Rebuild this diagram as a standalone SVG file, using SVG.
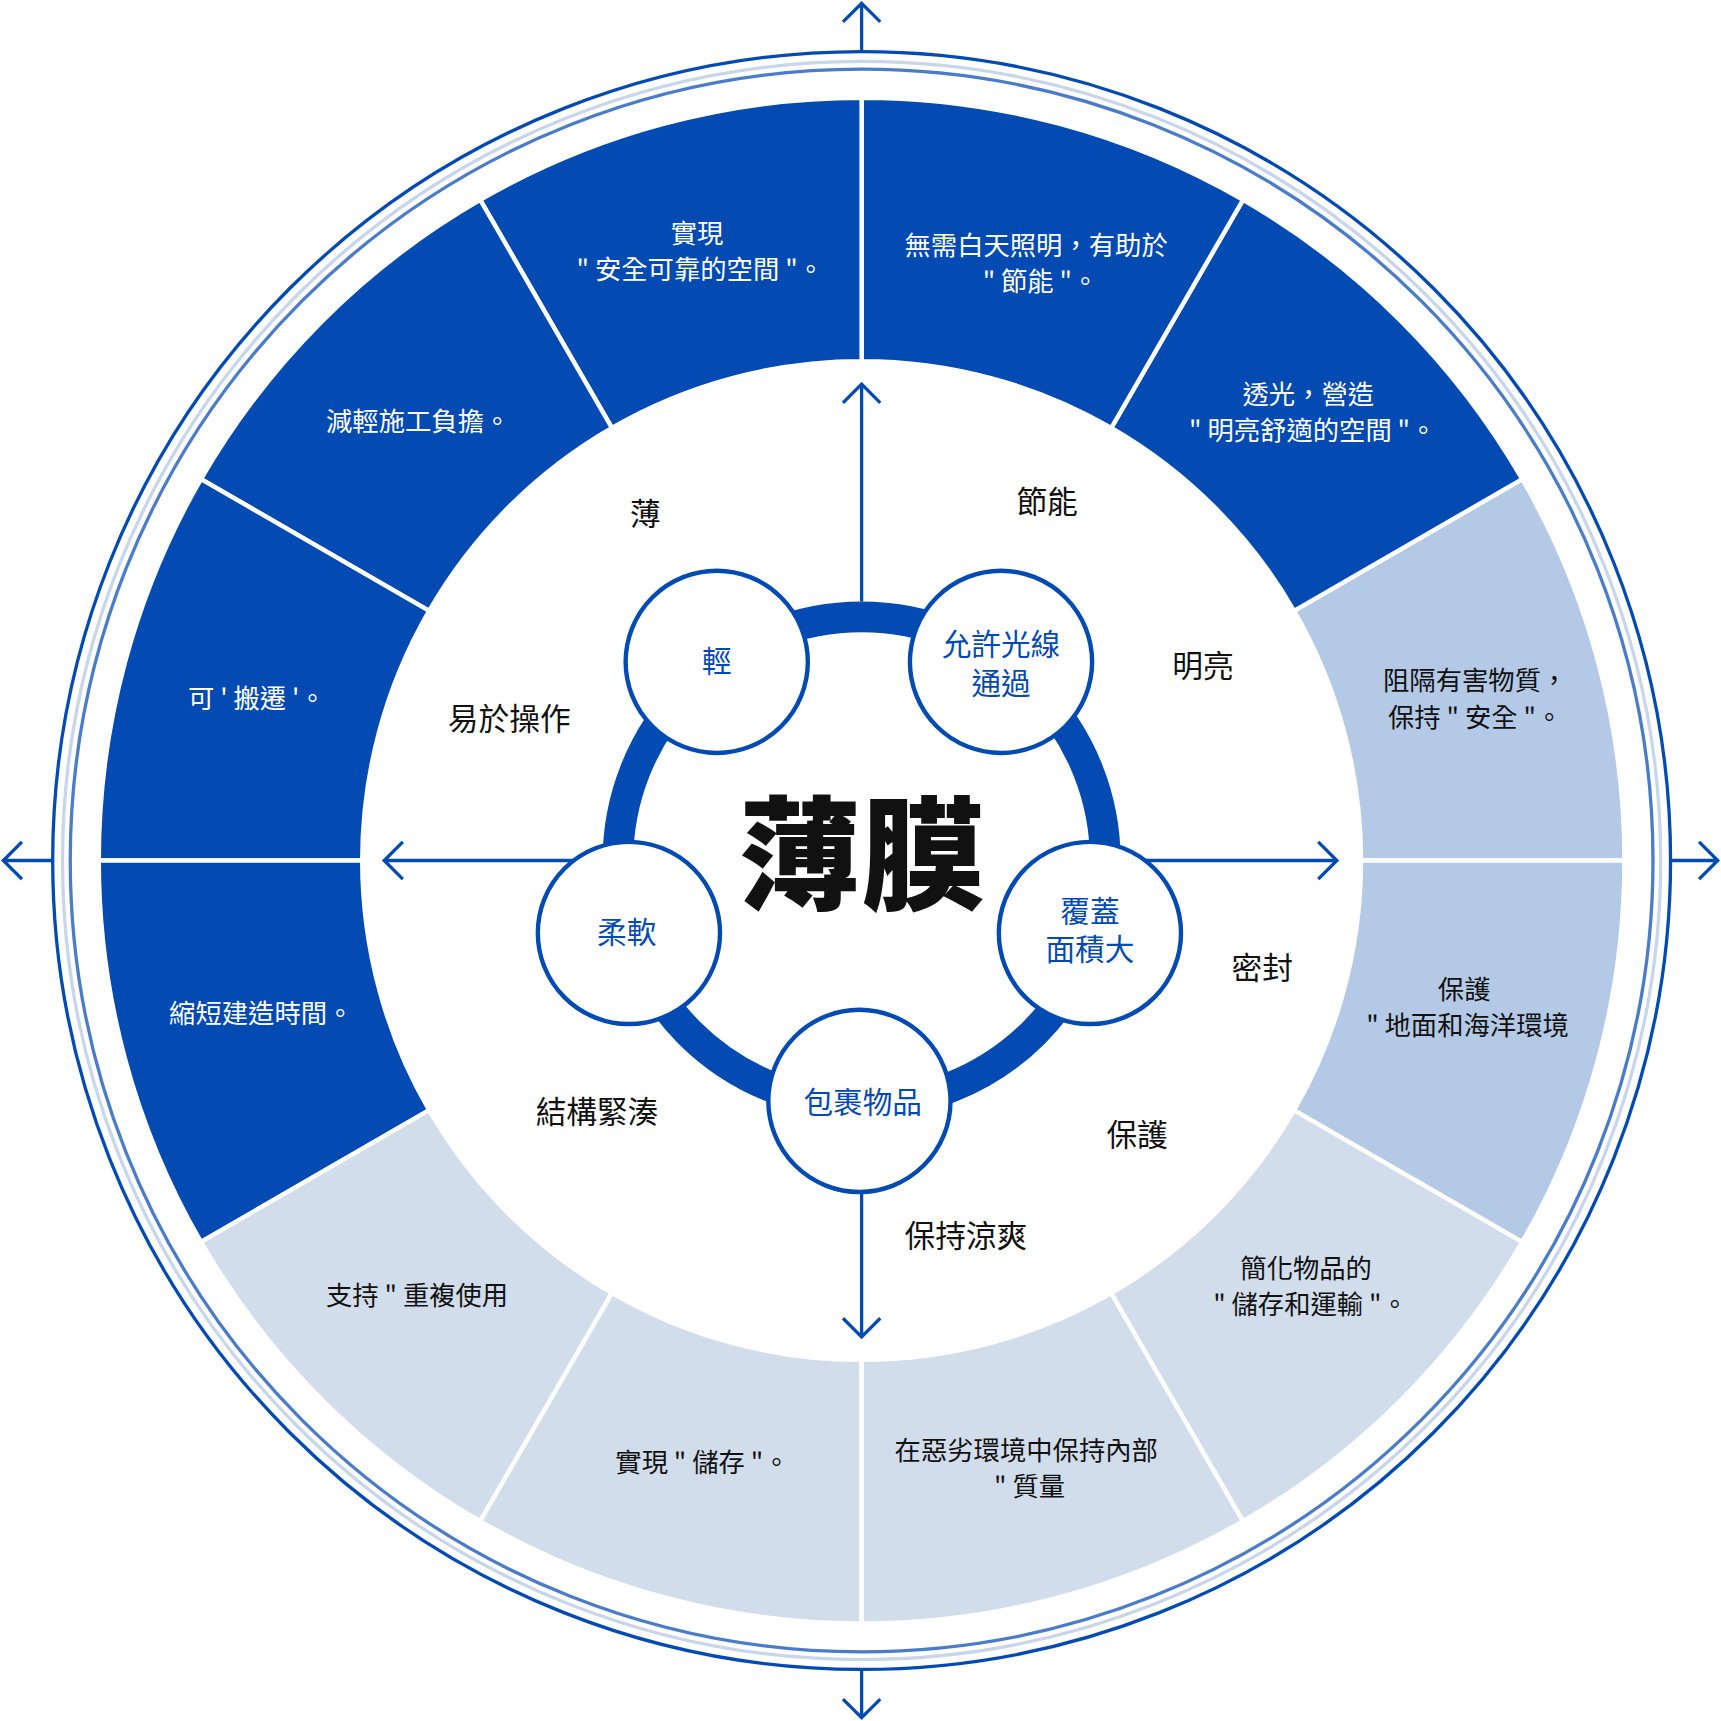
<svg xmlns="http://www.w3.org/2000/svg" width="1721" height="1721" viewBox="0 0 1721 1721">
<style>
.t{font-family:"Noto Sans CJK TC","Noto Sans CJK SC",sans-serif;font-size:24px;text-anchor:middle}
.w{fill:#fff}.k{fill:#111}
.l{font-family:"Noto Sans CJK TC","Noto Sans CJK SC",sans-serif;font-size:28px;text-anchor:middle;fill:#111}
.c{font-family:"Noto Sans CJK TC","Noto Sans CJK SC",sans-serif;font-size:27px;text-anchor:middle;fill:#034AB3}
.sd{fill:#034AB3;stroke:#fff;stroke-width:4}
.sm{fill:#B3C9E6;stroke:#fff;stroke-width:4}
.sl{fill:#D1DDEB;stroke:#fff;stroke-width:4}
.ln{stroke:#034AB3;stroke-width:3;fill:none}
.nd{fill:#fff;stroke:#034AB3;stroke-width:4}
</style>
<rect width="1721" height="1721" fill="#fff"/>
<g transform="scale(1.0976)">
<g id="rings">
<circle cx="785" cy="784" r="737" fill="none" stroke="#034AB3" stroke-width="3"/>
<circle cx="785" cy="784" r="728" fill="none" stroke="#C9D6EA" stroke-width="3"/>
<circle cx="785" cy="784" r="721" fill="none" stroke="#4A7CC8" stroke-width="3"/>
</g>
<g id="sectors">
<path class="sm" d="M1240,784 L1480,784 A695,695 0 0 0 1386.9,436.5 L1179,556.5 A455,455 0 0 1 1240,784Z"/>
<path class="sd" d="M1179,556.5 L1386.9,436.5 A695,695 0 0 0 1132.5,182.1 L1012.5,389.9 A455,455 0 0 1 1179,556.5Z"/>
<path class="sd" d="M1012.5,389.9 L1132.5,182.1 A695,695 0 0 0 785,89 L785,329 A455,455 0 0 1 1012.5,389.9Z"/>
<path class="sd" d="M785,329 L785,89 A695,695 0 0 0 437.5,182.1 L557.5,389.9 A455,455 0 0 1 785,329Z"/>
<path class="sd" d="M557.5,389.9 L437.5,182.1 A695,695 0 0 0 183.1,436.5 L391,556.5 A455,455 0 0 1 557.5,389.9Z"/>
<path class="sd" d="M391,556.5 L183.1,436.5 A695,695 0 0 0 90,784 L330,784 A455,455 0 0 1 391,556.5Z"/>
<path class="sd" d="M330,784 L90,784 A695,695 0 0 0 183.1,1131.5 L391,1011.5 A455,455 0 0 1 330,784Z"/>
<path class="sl" d="M391,1011.5 L183.1,1131.5 A695,695 0 0 0 437.5,1385.9 L557.5,1178.1 A455,455 0 0 1 391,1011.5Z"/>
<path class="sl" d="M557.5,1178.1 L437.5,1385.9 A695,695 0 0 0 785,1479 L785,1239 A455,455 0 0 1 557.5,1178.1Z"/>
<path class="sl" d="M785,1239 L785,1479 A695,695 0 0 0 1132.5,1385.9 L1012.5,1178.1 A455,455 0 0 1 785,1239Z"/>
<path class="sl" d="M1012.5,1178.1 L1132.5,1385.9 A695,695 0 0 0 1386.9,1131.5 L1179,1011.5 A455,455 0 0 1 1012.5,1178.1Z"/>
<path class="sm" d="M1179,1011.5 L1386.9,1131.5 A695,695 0 0 0 1480,784 L1240,784 A455,455 0 0 1 1179,1011.5Z"/>
</g>
<g id="sector-text">
<text class="t w" x="635" y="221">實現</text><text class="t w" x="638" y="254">" 安全可靠的空間 "。</text>
<text class="t w" x="944" y="232">無需白天照明，有助於</text><text class="t w" x="948" y="265">" 節能 "。</text>
<text class="t w" x="1192" y="368">透光，營造</text><text class="t w" x="1196" y="401">" 明亮舒適的空間 "。</text>
<text class="t w" x="381" y="393">減輕施工負擔。</text>
<text class="t w" x="234" y="645">可 ' 搬遷 '。</text>
<text class="t w" x="238" y="932">縮短建造時間。</text>
<text class="t k" x="1344" y="629">阻隔有害物質，</text><text class="t k" x="1344" y="662">保持 " 安全 "。</text>
<text class="t k" x="1334" y="910">保護</text><text class="t k" x="1337" y="943">" 地面和海洋環境</text>
<text class="t k" x="1190" y="1164">簡化物品的</text><text class="t k" x="1194" y="1197">" 儲存和運輸 "。</text>
<text class="t k" x="935" y="1330">在惡劣環境中保持內部</text><text class="t k" x="938" y="1363">" 質量</text>
<text class="t k" x="640" y="1341">實現 " 儲存 "。</text>
<text class="t k" x="380" y="1189">支持 " 重複使用</text>
</g>
<g id="connectors">
<circle cx="785" cy="784" r="222" fill="none" stroke="#034AB3" stroke-width="28"/>
<path class="ln" d="M785,548 V350 M768,367 L785,350 L802,367"/>
<path class="ln" d="M540,784 H350 M367,767 L350,784 L367,801"/>
<path class="ln" d="M1030,784 H1218 M1201,767 L1218,784 L1201,801"/>
<path class="ln" d="M785,1086 V1218 M768,1201 L785,1218 L802,1201"/>
<path class="ln" d="M785,47 V3 M768,20 L785,3 L802,20"/>
<path class="ln" d="M785,1521 V1565 M768,1548 L785,1565 L802,1548"/>
<path class="ln" d="M47,784 H3 M20,767 L3,784 L20,801"/>
<path class="ln" d="M1523,784 H1565 M1548,767 L1565,784 L1548,801"/>
</g>
<g id="labels">
<text class="l" x="588" y="478">薄</text>
<text class="l" x="954" y="467">節能</text>
<text class="l" x="1096" y="617">明亮</text>
<text class="l" x="464" y="665">易於操作</text>
<text class="l" x="1150" y="892">密封</text>
<text class="l" x="544" y="1023">結構緊湊</text>
<text class="l" x="1036" y="1044">保護</text>
<text class="l" x="880" y="1136">保持涼爽</text>
</g>
<g id="center"><text x="785" y="820" font-family="'Noto Sans CJK TC',sans-serif" font-size="112" font-weight="900" text-anchor="middle" fill="#111">薄膜</text></g>
<g id="n1"><circle class="nd" cx="653" cy="603" r="83"/><text class="c" x="653" y="612">輕</text></g>
<g id="n2"><circle class="nd" cx="912" cy="603" r="83"/><text class="c" x="912" y="597">允許光線</text><text class="c" x="912" y="632">通過</text></g>
<g id="n3"><circle class="nd" cx="993" cy="850" r="83"/><text class="c" x="993" y="840">覆蓋</text><text class="c" x="993" y="875">面積大</text></g>
<g id="n4"><circle class="nd" cx="783" cy="1003" r="83"/><text class="c" x="786" y="1014">包裹物品</text></g>
<g id="n5"><circle class="nd" cx="573" cy="850" r="83"/><text class="c" x="571" y="859">柔軟</text></g>
</g>
</svg>
